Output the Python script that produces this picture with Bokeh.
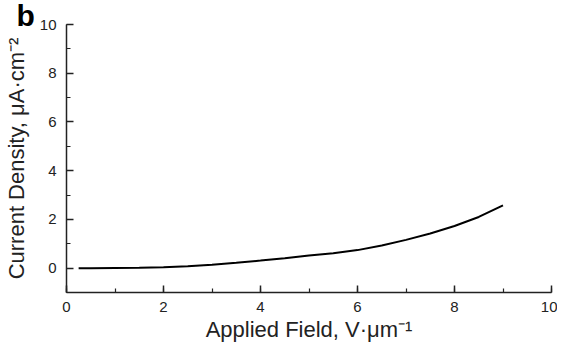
from bokeh.plotting import figure
from bokeh.models import Range1d, SingleIntervalTicker, Title
from bokeh.embed import file_html
from bokeh.resources import INLINE

field = [0.25, 0.5, 1.0, 1.5, 2.0, 2.5, 3.0, 3.5, 4.0, 4.5, 5.0, 5.5, 6.0, 6.5, 7.0, 7.5, 8.0, 8.5, 9.0]
density = [0.0, 0.0, 0.01, 0.02, 0.04, 0.08, 0.14, 0.22, 0.31, 0.41, 0.52, 0.61, 0.74, 0.93, 1.16, 1.42, 1.73, 2.10, 2.58]
panel_tag = "b"

FONT = "Liberation Sans"

p = figure(width=557, height=344, output_backend="svg", toolbar_location=None,
           x_range=Range1d(0, 10), y_range=Range1d(-1, 10),
           min_border_left=65, min_border_top=24, min_border_right=6, min_border_bottom=46)
p.outline_line_color = None
p.xgrid.visible = False
p.ygrid.visible = False
p.background_fill_color = "white"

p.title = Title(text=panel_tag, align="left", offset=-50, standoff=-15,
                text_font=FONT, text_font_style="bold", text_font_size="30px",
                text_color="black")

p.line(field, density, line_color="black", line_width=2)

for ax in (p.xaxis[0], p.yaxis[0]):
    ax.ticker = SingleIntervalTicker(interval=2, num_minor_ticks=2)
    ax.major_tick_in = 7
    ax.major_tick_out = 0
    ax.minor_tick_in = 4
    ax.minor_tick_out = 0
    ax.axis_line_width = 1.5
    ax.axis_line_color = "#222222"
    ax.major_tick_line_color = "#222222"
    ax.minor_tick_line_color = "#222222"
    ax.major_tick_line_width = 1.5
    ax.minor_tick_line_width = 1.2
    ax.major_label_text_font = FONT
    ax.major_label_text_font_size = "15px"
    ax.major_label_text_color = "#222222"
    ax.axis_label_text_font = FONT
    ax.axis_label_text_font_size = "22px"
    ax.axis_label_text_font_style = "normal"
    ax.axis_label_text_color = "#222222"

p.xaxis.axis_label = "Applied Field, V·μm⁻¹"
p.yaxis.axis_label = "Current Density, μA·cm⁻²"
p.xaxis.major_label_standoff = 9
p.yaxis.major_label_standoff = 10
p.xaxis.axis_label_standoff = 2
p.yaxis.axis_label_standoff = 8

open("out.html", "w").write(file_html(p, INLINE))
